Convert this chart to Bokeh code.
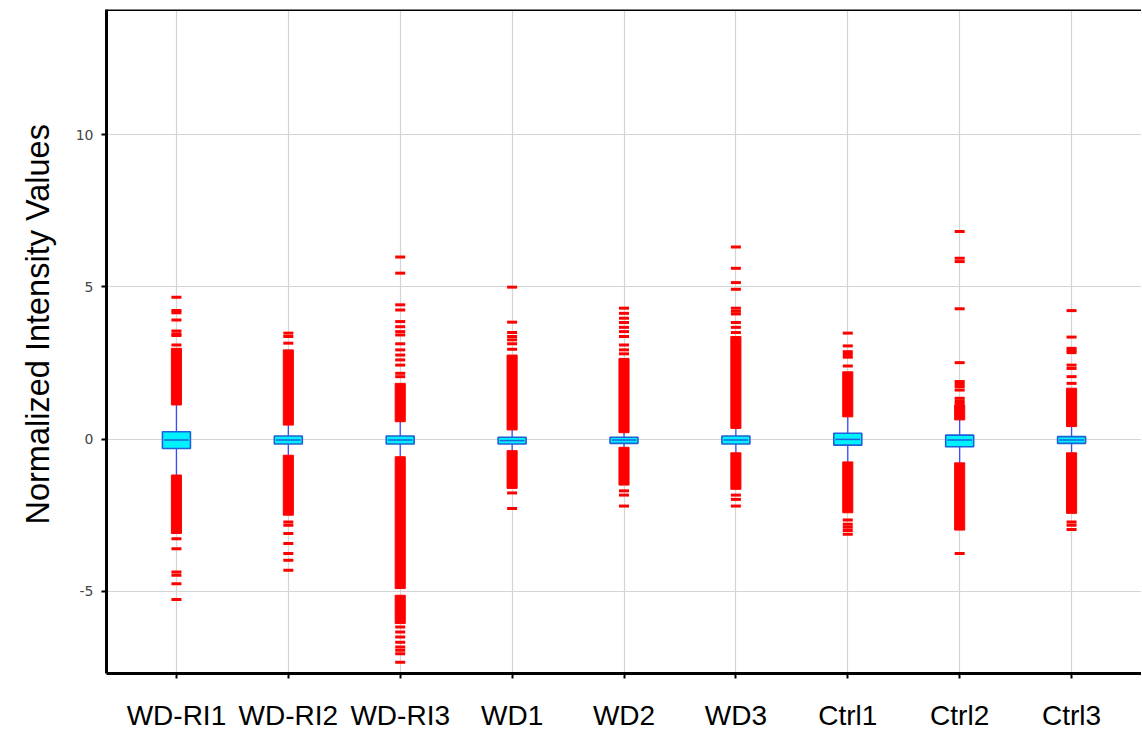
from bokeh.plotting import figure
from bokeh.models import FactorRange, Range1d, FixedTicker, Span, ColumnDataSource, Title
from bokeh.embed import file_html
from bokeh.resources import INLINE

categories = ["WD-RI1", "WD-RI2", "WD-RI3", "WD1", "WD2", "WD3", "Ctrl1", "Ctrl2", "Ctrl3"]
q1 = [-0.31, -0.16, -0.16, -0.16, -0.14, -0.16, -0.20, -0.25, -0.14]
q3 = [0.24, 0.10, 0.10, 0.06, 0.06, 0.10, 0.19, 0.13, 0.08]
median = [-0.03, -0.03, -0.03, -0.05, -0.03, -0.03, -0.01, -0.03, -0.03]
whisk_lo = [-1.18, -0.53, -0.58, -0.38, -0.27, -0.45, -0.75, -0.78, -0.45]
whisk_hi = [1.12, 0.46, 0.57, 0.30, 0.21, 0.35, 0.73, 0.63, 0.41]

# dense runs of outliers (drawn as solid red bands)
band_cat = ["WD-RI1", "WD-RI2", "WD-RI3", "WD1", "WD2", "WD3", "Ctrl1", "Ctrl2", "Ctrl3",
            "WD-RI1", "WD-RI2", "WD-RI3", "WD-RI3", "WD1", "WD2", "WD3", "Ctrl1", "Ctrl2", "Ctrl3"]
band_lo = [1.12, 0.46, 0.57, 0.30, 0.21, 0.35, 0.73, 0.63, 0.41,
           -3.10, -2.50, -4.91, -6.06, -1.62, -1.51, -1.65, -2.42, -2.99, -2.44]
band_hi = [2.98, 2.93, 1.83, 2.76, 2.65, 3.37, 2.21, 1.12, 1.67,
           -1.18, -0.53, -0.58, -5.13, -0.38, -0.27, -0.45, -0.75, -0.78, -0.45]

# isolated outliers
out_wdri1 = [4.66, 4.22, 4.15, 3.91, 3.55, 3.45, 3.40, 3.09, -3.27, -3.60, -4.37, -4.47, -4.75, -5.27]
out_wdri2 = [3.48, 3.37, 3.15, -2.72, -2.83, -3.10, -3.43, -3.76, -3.98, -4.31]
out_wdri3 = [5.98, 5.45, 4.41, 4.24, 3.86, 3.69, 3.53, 3.42, 3.13, 2.93, 2.76, 2.60, 2.43, 2.16, 2.05,
             -6.17, -6.34, -6.50, -6.67, -6.83, -6.94, -7.05, -7.33]
out_wd1 = [4.99, 3.84, 3.50, 3.37, 3.26, 3.13, 2.95, -1.77, -2.28]
out_wd2 = [4.30, 4.13, 3.97, 3.83, 3.67, 3.53, 3.37, 3.09, 2.93, 2.80, -1.70, -1.84, -2.20]
out_wd3 = [6.31, 5.61, 5.14, 4.92, 4.30, 4.20, 4.11, 3.83, 3.67, 3.50, -1.84, -1.98, -2.20]
out_ctrl1 = [3.48, 3.06, 2.87, 2.78, 2.69, 2.40, -2.66, -2.80, -2.90, -3.00, -3.13]
out_ctrl2 = [6.82, 5.94, 5.83, 4.28, 2.51, 1.89, 1.80, 1.72, 1.61, 1.34, 1.25, 1.17, -3.76]
out_ctrl3 = [4.22, 3.35, 2.98, 2.91, 2.84, 2.43, 2.32, 2.05, 1.83, -2.72, -2.83, -2.97]

y_ticks = [-5, 0, 5, 10]
y_start, y_end = -7.70, 14.11
y_label = "Normalized Intensity Values"

outliers = [out_wdri1, out_wdri2, out_wdri3, out_wd1, out_wd2, out_wd3, out_ctrl1, out_ctrl2, out_ctrl3]
ox, oy = [], []
for c, vals in zip(categories, outliers):
    ox += [c] * len(vals)
    oy += vals

p = figure(x_range=FactorRange(factors=categories, range_padding=0.125, range_padding_units="absolute"),
           y_range=Range1d(y_start, y_end),
           width=1141, height=733, output_backend="svg", toolbar_location=None,
           min_border_left=105, min_border_right=0, min_border_top=9, min_border_bottom=10)

p.outline_line_color = None
p.background_fill_color = "white"
p.border_fill_color = "white"

p.xgrid.grid_line_color = "#d4d4d4"
p.ygrid.grid_line_color = "#d4d4d4"
p.xgrid.grid_line_width = 1.2
p.ygrid.grid_line_width = 1.2

src = ColumnDataSource(dict(cat=categories, q1=q1, q3=q3, med=median, lo=whisk_lo, hi=whisk_hi))

# whiskers
p.segment(x0="cat", y0="q3", x1="cat", y1="hi", source=src, line_color="#3a4cff", line_width=1.3)
p.segment(x0="cat", y0="q1", x1="cat", y1="lo", source=src, line_color="#3a4cff", line_width=1.3)

# outliers
p.vbar(x=band_cat, bottom=band_lo, top=band_hi, width=0.09, fill_color="#ff0000", line_color="#ff0000",
       line_width=1)
p.rect(x=ox, y=oy, width=10, height=3, width_units="screen", height_units="screen",
       fill_color="#ff0000", line_color=None)

# boxes
p.vbar(x="cat", bottom="q1", top="q3", width=0.25, source=src, fill_color="#00f2ff",
       line_color="#1f5fd8", line_width=1.6)
p.rect(x="cat", y="med", width=0.22, height=1.5, height_units="screen", source=src,
       fill_color="#1f5fd8", line_color=None)

# top border
p.add_layout(Span(location=y_end, dimension="width", line_color="black", line_width=3))

# axes
p.yaxis.ticker = FixedTicker(ticks=y_ticks)
p.yaxis.major_label_overrides = {t: str(t) for t in y_ticks}
p.yaxis.major_label_text_font = "DejaVu Sans"
p.yaxis.major_label_text_font_size = "14px"
p.yaxis.major_label_text_color = "#444444"
p.yaxis.major_label_standoff = 8
p.yaxis.minor_tick_line_color = None
p.yaxis.major_tick_in = 0
p.yaxis.major_tick_out = 5
p.yaxis.axis_line_width = 3
p.yaxis.axis_line_color = "black"
p.yaxis.major_tick_line_color = "black"
p.yaxis.major_tick_line_width = 2

p.add_layout(Title(text=y_label, align="left", offset=149, standoff=34,
                   text_font="Liberation Sans", text_font_size="32.5px", text_font_style="normal",
                   text_color="black"), "left")

p.xaxis.major_label_text_font = "Liberation Sans"
p.xaxis.major_label_text_font_size = "28px"
p.xaxis.major_label_text_color = "black"
p.xaxis.major_label_standoff = 21
p.xaxis.major_tick_in = 0
p.xaxis.major_tick_out = 5
p.xaxis.axis_line_width = 3
p.xaxis.axis_line_color = "black"
p.xaxis.major_tick_line_color = "black"
p.xaxis.major_tick_line_width = 2

open("out.html", "w").write(file_html(p, INLINE))
